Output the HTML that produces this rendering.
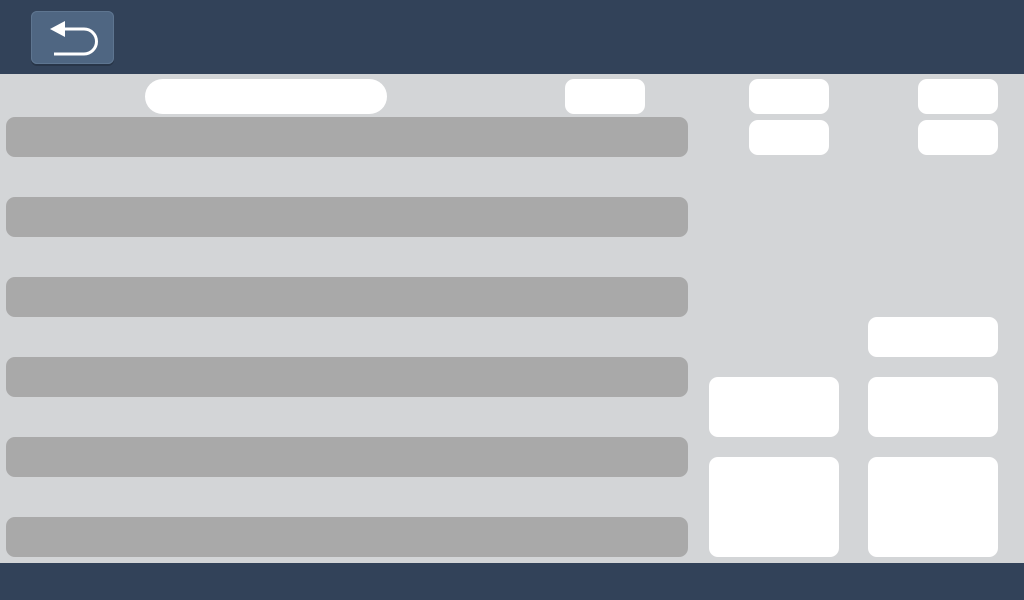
<!DOCTYPE html>
<html><head><meta charset="utf-8"><style>
html,body{margin:0;padding:0;width:1024px;height:600px;overflow:hidden;font-family:"Liberation Sans",sans-serif}
.hdr{position:absolute;left:0;top:0;width:1024px;height:74px;background:#324259}
.ftr{position:absolute;left:0;top:563px;width:1024px;height:37px;background:#324259}
.body{position:absolute;left:0;top:74px;width:1024px;height:489px;background:#d3d5d7}
.btn{position:absolute;left:31px;top:11px;width:83px;height:53px;border-radius:6px;background:#4f6682;box-shadow:0 2px 0 #283548,inset 0 0 0 1px #5e7590}
.bar{position:absolute;left:6px;width:682px;height:40px;border-radius:9px;background:#a9a9a9}
.w{position:absolute;background:#fff;border-radius:9px}
</style></head><body>
<div class="hdr">
 <div class="btn">
  <svg width="83" height="53" viewBox="0 0 83 53"><path d="M31 18 H53 A12.5 12.5 0 0 1 53 43 H23" fill="none" stroke="#fff" stroke-width="3"/><polygon points="19,18 34,10 34,26" fill="#fff"/></svg>
 </div>
</div>
<div class="body"></div>
<div class="bar" style="top:117px"></div>
<div class="bar" style="top:197px"></div>
<div class="bar" style="top:277px"></div>
<div class="bar" style="top:357px"></div>
<div class="bar" style="top:437px"></div>
<div class="bar" style="top:517px"></div>
<div class="w" style="left:145px;top:79px;width:242px;height:35px;border-radius:18px"></div>
<div class="w" style="left:565px;top:79px;width:80px;height:35px"></div>
<div class="w" style="left:749px;top:79px;width:80px;height:35px"></div>
<div class="w" style="left:749px;top:120px;width:80px;height:35px"></div>
<div class="w" style="left:918px;top:79px;width:80px;height:35px"></div>
<div class="w" style="left:918px;top:120px;width:80px;height:35px"></div>
<div class="w" style="left:868px;top:317px;width:130px;height:40px"></div>
<div class="w" style="left:709px;top:377px;width:130px;height:60px"></div>
<div class="w" style="left:868px;top:377px;width:130px;height:60px"></div>
<div class="w" style="left:709px;top:457px;width:130px;height:100px"></div>
<div class="w" style="left:868px;top:457px;width:130px;height:100px"></div>
<div class="ftr"></div>
</body></html>
